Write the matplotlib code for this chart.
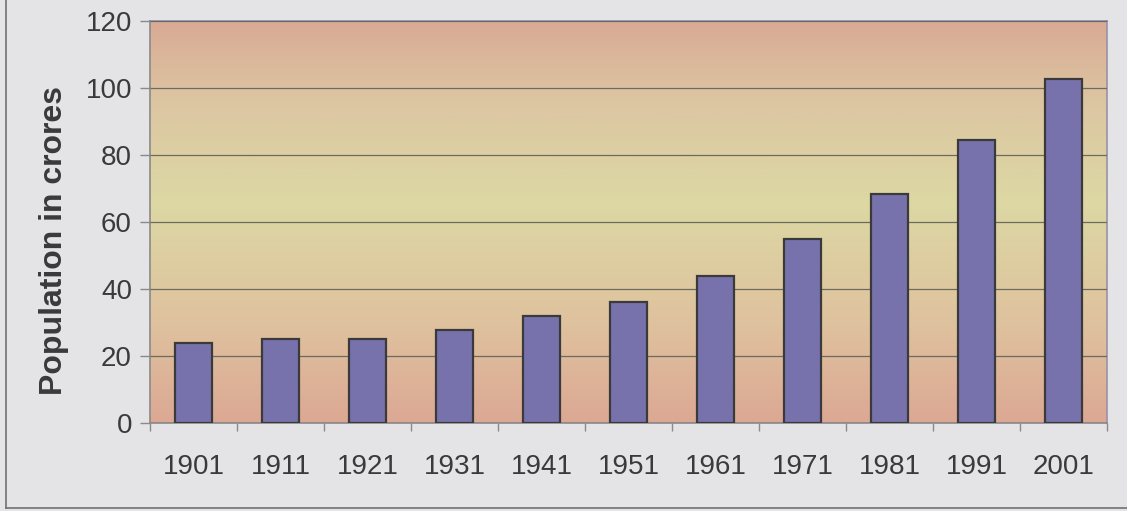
import matplotlib
matplotlib.use("Agg")
from matplotlib import pyplot as plt
from matplotlib.colors import LinearSegmentedColormap
import numpy as np

years = ["1901", "1911", "1921", "1931", "1941", "1951",
         "1961", "1971", "1981", "1991", "2001"]
population = [23.8, 25.2, 25.1, 27.9, 31.9, 36.1, 43.9, 54.8, 68.3, 84.6, 102.8]
y_ticks = [0, 20, 40, 60, 80, 100, 120]

plt.rcParams['font.family'] = ['Liberation Sans', 'DejaVu Sans']

fig = plt.figure(figsize=(11.27, 5.11), dpi=100, facecolor="#e4e3e6")
ax = fig.add_axes([150 / 1127, 1 - 423 / 511, 957 / 1127, 402 / 511])

# vertical gradient background: salmon -> yellow -> salmon
grad = LinearSegmentedColormap.from_list(
    "bg", [(0.0, "#dca894"), (0.25, "#dfc29e"), (0.55, "#dcd8a4"),
           (0.8, "#dcc6a2"), (1.0, "#d9aa94")])
ax.imshow(np.linspace(0, 1, 256).reshape(-1, 1), cmap=grad, aspect="auto",
          extent=(-0.5, len(years) - 0.5, 0, 120), origin="lower", zorder=0)

x = np.arange(len(years))
ax.bar(x, population, width=0.42, color="#7872ac", edgecolor="#3a3a3a",
       linewidth=1.6, zorder=3)

ax.set_xlim(-0.5, len(years) - 0.5)
ax.set_ylim(0, 120)
ax.set_yticks(y_ticks)
ax.set_yticklabels([str(t) for t in y_ticks], fontsize=20, color="#3a3a3a")
ax.set_xticks(x)
ax.set_xticklabels(years, fontsize=20, color="#3a3a3a")
ax.set_xticks(np.arange(len(years) + 1) - 0.5, minor=True)
ax.tick_params(axis="x", which="major", length=0, pad=22)
ax.tick_params(axis="x", which="minor", length=6, color="#8a8a8a", width=1)
ax.tick_params(axis="y", length=7, color="#8a8a8a", width=1, pad=6)

ax.grid(axis="y", color="#6b6b5e", linewidth=0.9, zorder=1)
ax.set_axisbelow(False)
for s in ax.spines.values():
    s.set_linewidth(1.2)
ax.spines["top"].set_color("#8c88b8")
ax.spines["right"].set_color("#9a92a8")
ax.spines["left"].set_color("#8a8a8a")
ax.spines["bottom"].set_color("#8a8a8a")

ax.set_ylabel("Population in crores", fontsize=23, fontweight="bold",
              color="#3a3a3a")
ax.yaxis.set_label_coords(-0.085, 0.453)

# frame line of the scanned box (left and bottom)
fig.add_artist(plt.Line2D([6 / 1127, 6 / 1127], [1 - 508 / 511, 1.0],
                          transform=fig.transFigure, color="#707070", lw=1.2))
fig.add_artist(plt.Line2D([6 / 1127, 1.0], [1 - 508 / 511, 1 - 508 / 511],
                          transform=fig.transFigure, color="#707070", lw=1.2))

fig.savefig("out.png", dpi=100, facecolor=fig.get_facecolor())
